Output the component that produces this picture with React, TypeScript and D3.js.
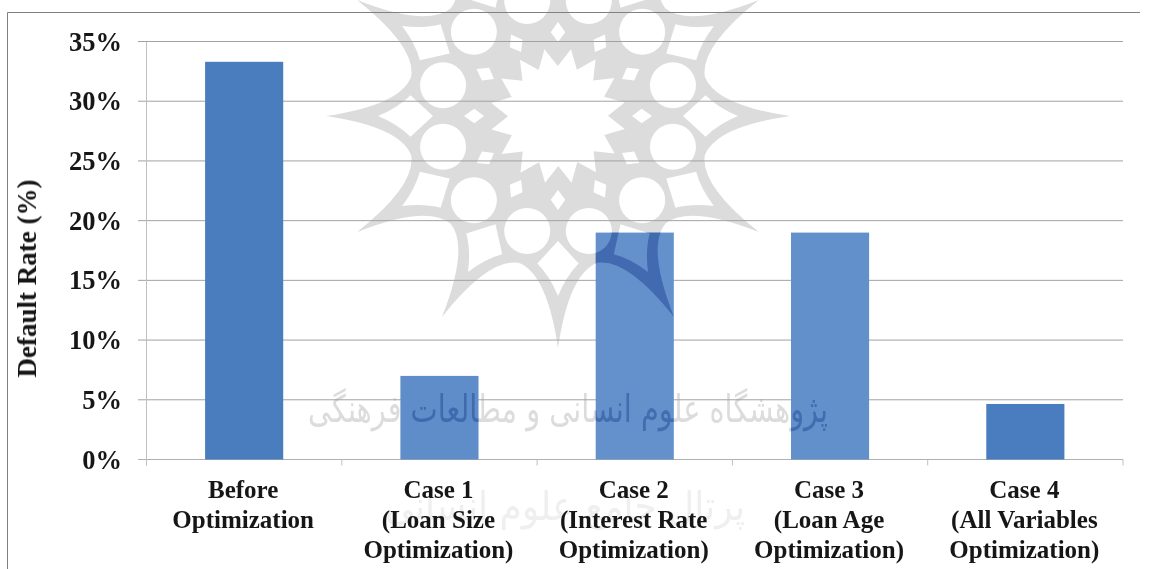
import React from "react";
import * as d3 from "d3";

const categories = ["Before Optimization", "Case 1", "Case 2", "Case 3", "Case 4"];
const categoryLines = [
  ["Before", "Optimization"],
  ["Case 1", "(Loan Size", "Optimization)"],
  ["Case 2", "(Interest Rate", "Optimization)"],
  ["Case 3", "(Loan Age", "Optimization)"],
  ["Case 4", "(All Variables", "Optimization)"],
];
const defaultRates = [33.3, 7.0, 19.0, 19.0, 4.65];
const barColors = ["#4a7dbd", "#5f8dc9", "#6491cc", "#6190cb", "#4a7cc0"];
const yTicks = [0, 5, 10, 15, 20, 25, 30, 35];
const yAxisTitle = "Default Rate (%)";
const watermarkLine1 = "پژوهشگاه علوم انسانی و مطالعات فرهنگی";
const watermarkLine2 = "پرتال جامع علوم انسانی";

const W = 1151, H = 569;
const plot = { left: 146.5, right: 1123, top: 41.5, bottom: 459.5 };
const CX = 558, CY = 116;
const serif = "'Liberation Serif', 'Times New Roman', serif";

function polar(r: number, deg: number): [number, number] {
  const a = (deg * Math.PI) / 180;
  return [CX + r * Math.cos(a), CY + r * Math.sin(a)];
}
const angles12 = d3.range(12).map((i) => i * 30);

function outerStar() {
  let d = "";
  angles12.forEach((a, i) => {
    const tip = polar(232, a);
    const ctrlA = polar(158, a + 4);
    const valley = polar(152, a + 15);
    const ctrlB = polar(158, a + 26);
    const next = polar(232, a + 30);
    d += `${i === 0 ? `M${tip[0]},${tip[1]} ` : ""}Q${ctrlA[0]},${ctrlA[1]} ${valley[0]},${valley[1]} Q${ctrlB[0]},${ctrlB[1]} ${next[0]},${next[1]} `;
  });
  return d + "Z";
}
function kite(a: number) {
  const p0 = polar(125, a);
  const p1 = polar(149, a - 8);
  const p2 = polar(180, a);
  const p3 = polar(149, a + 8);
  const c1 = polar(160, a - 3);
  const c2 = polar(160, a + 3);
  return `M${p0[0]},${p0[1]} L${p1[0]},${p1[1]} Q${c1[0]},${c1[1]} ${p2[0]},${p2[1]} Q${c2[0]},${c2[1]} ${p3[0]},${p3[1]} Z`;
}
function diamond(a: number) {
  const p = [polar(74, a), polar(84, a - 5), polar(94, a), polar(84, a + 5)];
  return `M${p.map((q) => q.join(",")).join(" L")} Z`;
}
function centerStar() {
  const n = 16;
  const pts = d3.range(n * 2).map((i) => polar(i % 2 === 0 ? 68 : 50, (i * 180) / n + 11));
  return `M${pts.map((q) => q.join(",")).join(" L")} Z`;
}

function Rosette({ grey }: { grey: string }) {
  return (
    <g>
      <path d={outerStar()} fill={grey} />
      {angles12.map((a) => (
        <path key={"k" + a} d={kite(a)} fill="#fff" />
      ))}
      {angles12.map((a) => {
        const c = polar(119, a + 15);
        return <circle key={"c" + a} cx={c[0]} cy={c[1]} r={23} fill="#fff" />;
      })}
      {angles12.map((a) => (
        <path key={"d" + a} d={diamond(a)} fill="#fff" />
      ))}
      <path d={centerStar()} fill="#fff" />
    </g>
  );
}

function PersianText({ fill1, fill2 }: { fill1: string; fill2: string }) {
  return (
    <g fontFamily="'DejaVu Sans', sans-serif" textAnchor="middle" style={{ direction: "rtl" }}>
      <text x={568} y={422} fontSize={38} fill={fill1} textLength={520} lengthAdjust="spacingAndGlyphs">
        {watermarkLine1}
      </text>
      <text x={565} y={520} fontSize={40} fill={fill2} textLength={360} lengthAdjust="spacingAndGlyphs">
        {watermarkLine2}
      </text>
    </g>
  );
}

export default function App() {
  const x = d3.scaleBand<string>().domain(categories).range([plot.left, plot.right]).paddingInner(0.6).paddingOuter(0.3);
  const y = d3.scaleLinear().domain([0, 35]).range([plot.bottom, plot.top]);
  const tickXs = d3.range(categories.length + 1).map((i) => plot.left + (i * (plot.right - plot.left)) / categories.length);

  return (
    <svg width={W} height={H} viewBox={`0 0 ${W} ${H}`} style={{ position: "absolute", left: 0, top: 0, background: "#fff" }}>
      <defs>
        <filter id="soft" x="-5%" y="-5%" width="110%" height="110%">
          <feGaussianBlur stdDeviation="0.45" />
        </filter>
        <clipPath id="barsClip">
          {categories.map((c, i) => (
            <rect key={c} x={x(c)} y={y(defaultRates[i])} width={x.bandwidth()} height={y(0) - y(defaultRates[i])} />
          ))}
        </clipPath>
      </defs>

      <g filter="url(#soft)">
        <Rosette grey="#dcdcdc" />
        <PersianText fill1="#dcdcdc" fill2="#efefef" />
      </g>

      {/* frame */}
      <path d={`M7.5,${H} V12.5 H1140`} fill="none" stroke="#808080" strokeWidth={1} />

      {/* gridlines and axes */}
      {yTicks.map((t) => (
        <line key={t} x1={138} x2={plot.right} y1={y(t)} y2={y(t)} stroke={t === 0 ? "#b0b0b0" : "#a2a2a2"} strokeWidth={1} />
      ))}
      <line x1={plot.left} x2={plot.left} y1={plot.top} y2={plot.bottom + 6} stroke="#c0c0c0" strokeWidth={1} />
      {tickXs.map((tx) => (
        <line key={tx} x1={tx} x2={tx} y1={plot.bottom} y2={plot.bottom + 6} stroke="#c0c0c0" strokeWidth={1} />
      ))}

      {/* bars */}
      {categories.map((c, i) => (
        <rect key={c} x={x(c)} y={y(defaultRates[i])} width={x.bandwidth()} height={y(0) - y(defaultRates[i])} fill={barColors[i]} />
      ))}

      {/* watermark showing through the bars */}
      <g clipPath="url(#barsClip)" style={{ mixBlendMode: "multiply" }}>
        <g filter="url(#soft)">
          <rect x={0} y={0} width={W} height={H} fill="#fff" />
          <Rosette grey="#a4bbdc" />
          <PersianText fill1="#a9bfdd" fill2="#ffffff" />
        </g>
      </g>

      {/* labels */}
      <g fontFamily={serif} fontWeight="bold" fill="#151515" filter="url(#soft)">
        {yTicks.map((t) => (
          <text key={t} x={122} y={y(t) + 9} fontSize={26.5} textAnchor="end">
            {t}%
          </text>
        ))}
        {categories.map((c, i) => (
          <text key={c} textAnchor="middle" fontSize={25}>
            {categoryLines[i].map((line, j) => (
              <tspan key={j} x={x(c)! + x.bandwidth() / 2 - 1} y={497.5 + j * 30}>
                {line}
              </tspan>
            ))}
          </text>
        ))}
        <text transform="translate(36,278.5) rotate(-90)" textAnchor="middle" fontSize={27}>
          {yAxisTitle}
        </text>
      </g>
    </svg>
  );
}
